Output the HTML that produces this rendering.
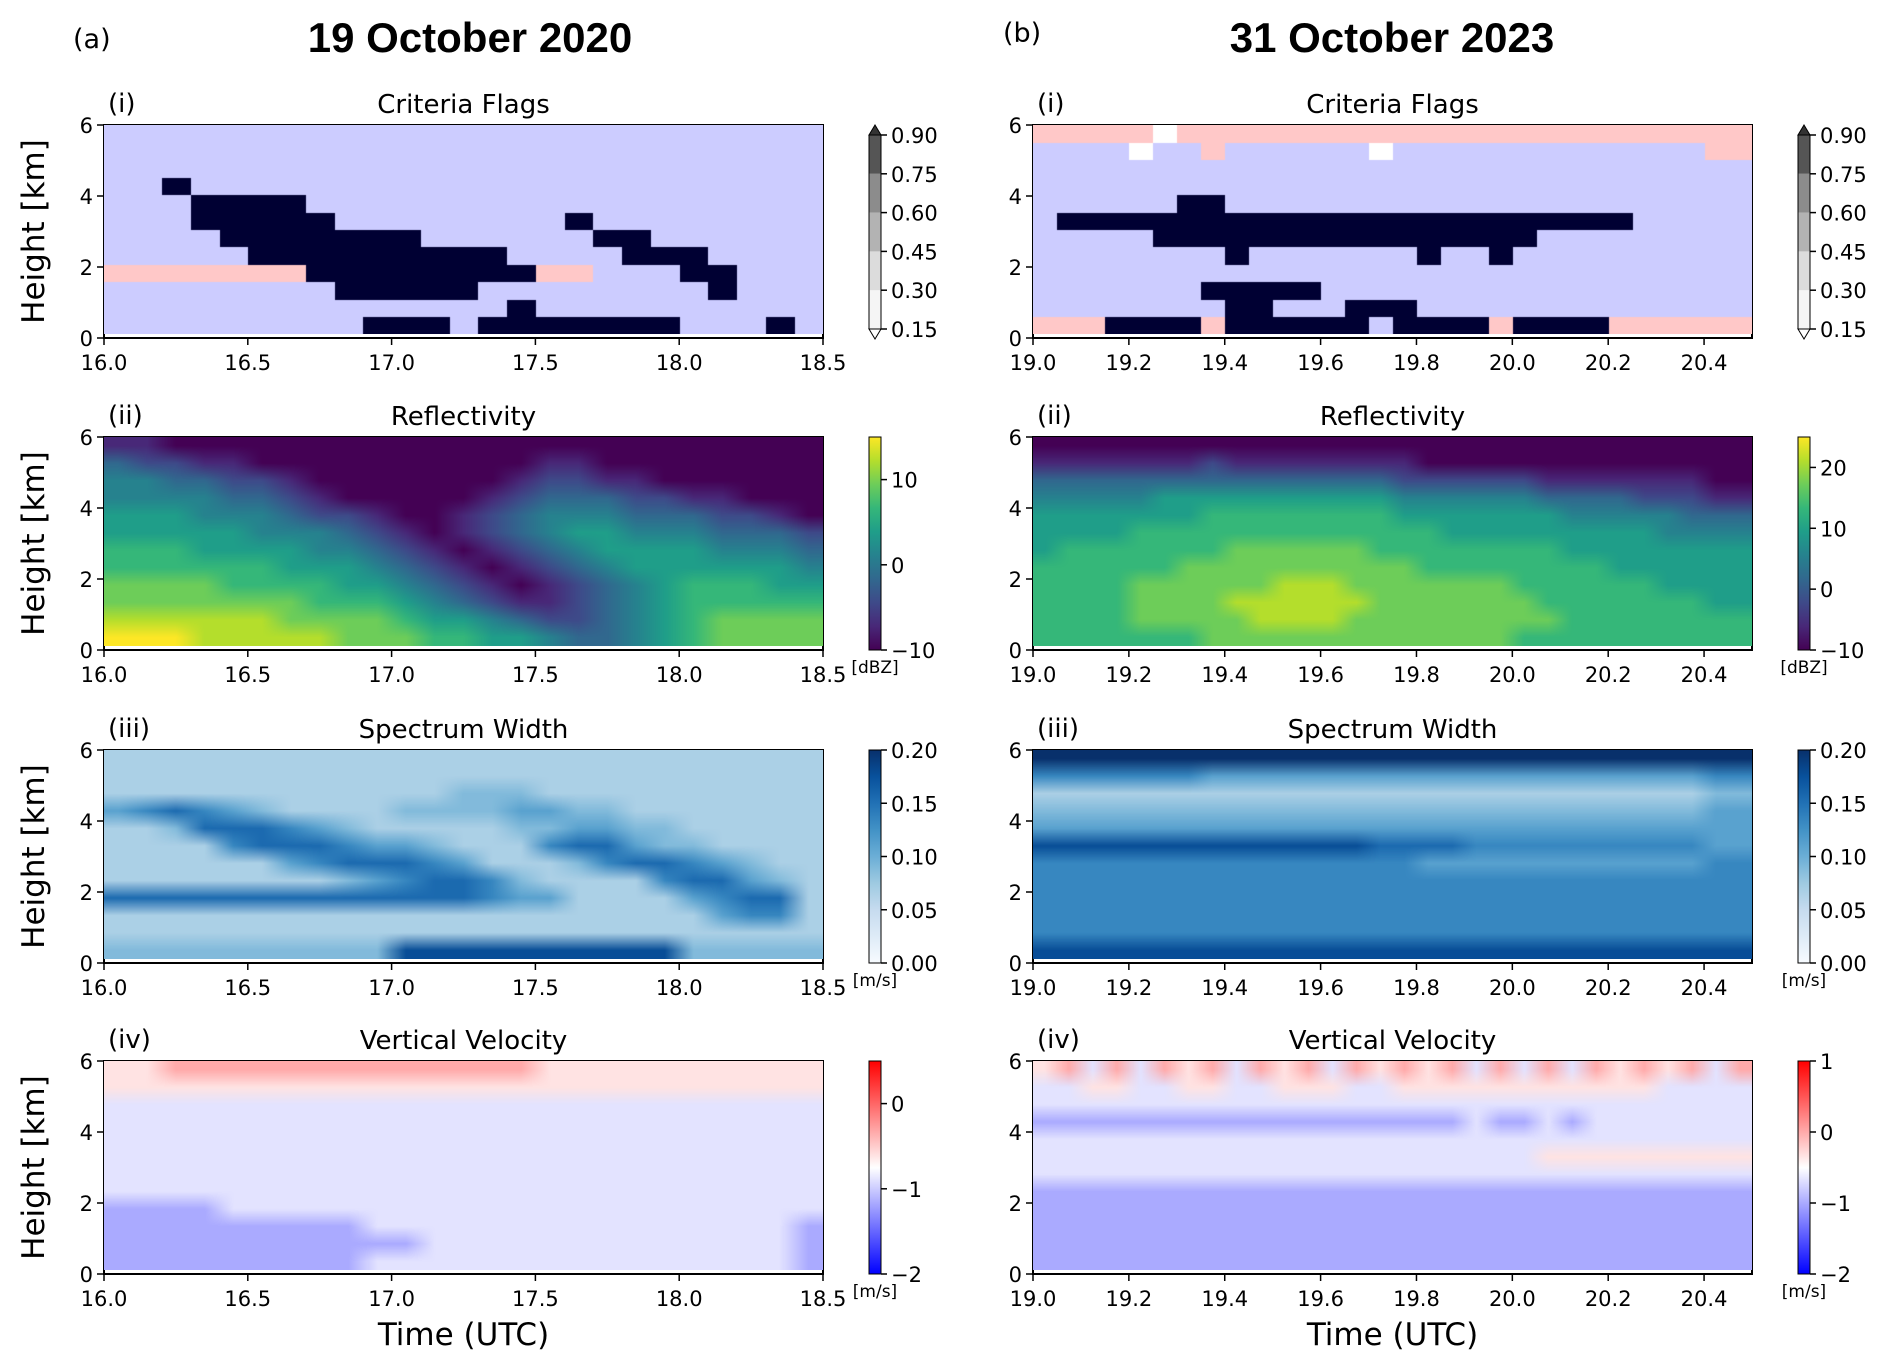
<!DOCTYPE html>
<html><head><meta charset="utf-8">
<style>
body{margin:0;background:#fff;width:1892px;height:1365px;position:relative;overflow:hidden;font-family:"DejaVu Sans","Liberation Sans",sans-serif;}
canvas{position:absolute;}
svg{position:absolute;left:0;top:0;}
</style></head>
<body>
<svg id="fig" width="1892" height="1365"></svg>
<script>
// ---- data (rows from 6 km top down to 0 km, 0.5 km each) ----
const flagsA = ["LLLLLLLLLLLLLLLLLLLLLLLLL","LLLLLLLLLLLLLLLLLLLLLLLLL","LLLLLLLLLLLLLLLLLLLLLLLLL","LLDLLLLLLLLLLLLLLLLLLLLLL","LLLDDDDLLLLLLLLLLLLLLLLLL","LLLDDDDDLLLLLLLLDLLLLLLLL","LLLLDDDDDDDLLLLLLDDLLLLLL","LLLLLDDDDDDDDDLLLLDDDLLLL","PPPPPPPDDDDDDDDPPLLLDDLLL","LLLLLLLLDDDDDLLLLLLLLDLLL","LLLLLLLLLLLLLLDLLLLLLLLLL","LLLLLLLLLDDDLDDDDDDDLLLDL"];
const flagsB = ["PPPPPWPPPPPPPPPPPPPPPPPPPPPPPP","LLLLWLLPLLLLLLWLLLLLLLLLLLLLPP","LLLLLLLLLLLLLLLLLLLLLLLLLLLLLL","LLLLLLLLLLLLLLLLLLLLLLLLLLLLLL","LLLLLLDDLLLLLLLLLLLLLLLLLLLLLL","LDDDDDDDDDDDDDDDDDDDDDDDDLLLLL","LLLLLDDDDDDDDDDDDDDDDLLLLLLLLL","LLLLLLLLDLLLLLLLDLLDLLLLLLLLLL","LLLLLLLLLLLLLLLLLLLLLLLLLLLLLL","LLLLLLLDDDDDLLLLLLLLLLLLLLLLLL","LLLLLLLLDDLLLDDDLLLLLLLLLLLLLL","PPPDDDDPDDDDDDLDDDDPDDDDPPPPPP"];
const reflA = ["1100000000000000000000000","3221100000000001100000000","4433221000000012211000000","4444332100000123332211000","5554443221001234443332210","5555544432101234554443332","6665555443210123455554443","6666665554321012345555554","7777666655432101234566655","7777777666543211234566666","8888887777655432234567777","9998888877766554334567777"];
const reflB = ["000000000000000000000000000000","111111121111111100000000000000","333333333333333222222111111100","444445555555555444444333322211","555555566666666555555544444333","555566666666666665555555554444","566666667777776666666655555555","666666777777777766666666555555","666677777788877777776666665555","666677778888887777777666666655","666677777888877777777766666666","666666677777777777776666666666"];
const swA = ["3333333333333333333333333","3333333333333333333333333","3333333333334443333333333","5676543333444455443333333","3347776543333344554433333","3333677765543336775443333","3333335677765333467765433","3333333345677643333677543","7777777777777655333356773","3333333333333333333335663","3333333333333333333333333","4444444444888888888844444"];
const swB = ["999999999999999999999999999999","666666655555555555555555555566","333333333333333333333333333344","444444444444444444444444444455","555555555555555555555555555555","888888888888887777666666666655","666666666666666655555555555566","666666666666666666666666666666","666666666666666666666666666666","666666666666666666666666666666","666666666666666666666666666666","888888888888888888888888888888"];
const vvA = ["5566666666666665555555555","5555555555555555555555555","4444444444444444444444444","4444444444444444444444444","4444444444444444444444444","4444444444444444444444444","4444444444444444444444444","4444444444444444444444444","3333444444444444444444444","3333333334444444444444443","3333333333344444444444443","3333333334444444444444443"];
const vvB = ["564646564656465656464646565646","445544554455544555555555554444","444444444444444444444444444444","333333333333333333433434444444","444444444444444444444444444444","444444444444444444444555555555","444444444444444444444444444444","333333333333333333333333333333","333333333333333333333333333333","333333333333333333333333333333","333333333333333333333333333333","333333333333333333333333333333"];
const xTicksA = [16.0,16.5,17.0,17.5,18.0,18.5];
const xTicksB = [19.0,19.2,19.4,19.6,19.8,20.0,20.2,20.4];
const yTicks = [0,2,4,6];
const flagTicks = [0.15,0.30,0.45,0.60,0.75,0.90];
const reflTicksA = [-10,0,10];
const reflTicksB = [-10,0,10,20];
const swTicks = [0.00,0.05,0.10,0.15,0.20];
const vvTicksA = [-2,-1,0];
const vvTicksB = [-2,-1,0,1];

// ---- colormaps ----
function lerpStops(stops,t){t=Math.max(0,Math.min(1,t));const n=stops.length-1;const i=Math.min(n-1,Math.floor(t*n));const f=t*n-i;const a=stops[i],b=stops[i+1];return [a[0]+(b[0]-a[0])*f,a[1]+(b[1]-a[1])*f,a[2]+(b[2]-a[2])*f];}
const viridis=[[68,1,84],[72,40,120],[62,74,137],[49,104,142],[38,130,142],[31,158,137],[53,183,121],[109,205,89],[180,222,44],[253,231,37]];
const blues=[[247,251,255],[222,235,247],[198,219,239],[158,202,225],[107,174,214],[66,146,198],[33,113,181],[8,81,156],[8,48,107]];
const bwr=[[0,0,255],[255,255,255],[255,0,0]];
const flagCol={L:[204,204,255],D:[0,0,51],P:[255,200,200],W:[255,255,255]};

const svg=document.getElementById('fig');
const NS='http://www.w3.org/2000/svg';
function el(tag,attrs,parent){const e=document.createElementNS(NS,tag);for(const k in attrs)e.setAttribute(k,attrs[k]);(parent||svg).appendChild(e);return e;}
function txt(s,attrs,parent){const e=el('text',attrs,parent);e.textContent=s;return e;}

const cols=[{x0:104,x1:823,xmin:16.0,xmax:18.5,ticks:xTicksA,key:'a'},{x0:1033,x1:1752,xmin:19.0,xmax:20.5,ticks:xTicksB,key:'b'}];
const rowsTop=[125,437,750,1061];const H=213;
const titles=["Criteria Flags","Reflectivity","Spectrum Width","Vertical Velocity"];
const romans=["(i)","(ii)","(iii)","(iv)"];

function drawHeat(grid,x,y,w,h,colorFn,smooth,name){
  const R=grid.length,C=grid[0].length;
  const cv=document.createElement('canvas');cv.width=Math.round(w);cv.height=Math.round(h);
  cv.style.left=x+'px';cv.style.top=y+'px';
  
  
  const ctx=cv.getContext('2d');
  const img=ctx.createImageData(cv.width,cv.height);
  const cache={};
  const col=(r,c)=>{const ch=grid[r][c];if(!cache[ch])cache[ch]=colorFn(ch);return cache[ch];};
  for(let py=0;py<cv.height;py++){
    for(let px=0;px<cv.width;px++){
      let out;
      if(!smooth){const r=Math.min(R-1,Math.floor(py/cv.height*R)),c=Math.min(C-1,Math.floor(px/cv.width*C));out=col(r,c);}
      else{
        let fy=(py+0.5)/cv.height*R-0.5,fx=(px+0.5)/cv.width*C-0.5;
        fy=Math.max(0,Math.min(R-1,fy));fx=Math.max(0,Math.min(C-1,fx));
        const r0=Math.floor(fy),c0=Math.floor(fx),r1=Math.min(R-1,r0+1),c1=Math.min(C-1,c0+1);
        const ty=fy-r0,tx=fx-c0;
        const a=col(r0,c0),b=col(r0,c1),c=col(r1,c0),d=col(r1,c1);
        out=[0,1,2].map(k=>(a[k]*(1-tx)+b[k]*tx)*(1-ty)+(c[k]*(1-tx)+d[k]*tx)*ty);
      }
      const i=(py*cv.width+px)*4;img.data[i]=out[0];img.data[i+1]=out[1];img.data[i+2]=out[2];img.data[i+3]=255;
    }
  }
  ctx.putImageData(img,0,0);
  document.body.appendChild(cv);
}

const panels=[
 [{g:flagsA,f:ch=>flagCol[ch],s:false},{g:reflA,f:d=>lerpStops(viridis,(+d)/9),s:true},{g:swA,f:d=>lerpStops(blues,(+d)/9),s:true},{g:vvA,f:d=>lerpStops(bwr,(+d)/9),s:true}],
 [{g:flagsB,f:ch=>flagCol[ch],s:false},{g:reflB,f:d=>lerpStops(viridis,(+d)/9),s:true},{g:swB,f:d=>lerpStops(blues,(+d)/9),s:true},{g:vvB,f:d=>lerpStops(bwr,(+d)/9),s:true}]
];

txt('(a)',{x:73,y:48,'font-size':27,});
txt('19 October 2020',{x:470,y:52,'font-size':42,'font-weight':'bold','text-anchor':'middle','font-family':'Liberation Sans, sans-serif',});
txt('(b)',{x:1003,y:42,'font-size':27,});
txt('31 October 2023',{x:1392,y:52,'font-size':42,'font-weight':'bold','text-anchor':'middle','font-family':'Liberation Sans, sans-serif',});

cols.forEach((C,ci)=>{
  const W=C.x1-C.x0;
  const xs=v=>C.x0+(v-C.xmin)/(C.xmax-C.xmin)*W;
  rowsTop.forEach((top,ri)=>{
    const ys=v=>top+H-(v/6)*H;
    const p=panels[ci][ri];
    const g=el('g',{});
    drawHeat(p.g,C.x0,ys(6),W,ys(0.12)-ys(6),p.f,p.s,`heatmap-${C.key}-${ri+1}`);
    el('rect',{x:C.x0,y:top,width:W,height:H,fill:'none',stroke:'#000','stroke-width':2,},g);
    yTicks.forEach(v=>{
      el('line',{x1:C.x0-7,x2:C.x0,y1:ys(v),y2:ys(v),stroke:'#000','stroke-width':1.5,},g);
      txt(String(v),{x:C.x0-11,y:ys(v)+8,'font-size':21,'text-anchor':'end',},g);
    });
    C.ticks.forEach(v=>{
      el('line',{x1:xs(v),x2:xs(v),y1:top+H,y2:top+H+7,stroke:'#000','stroke-width':1.5,},g);
      txt(v.toFixed(1),{x:xs(v),y:top+H+32,'font-size':21,'text-anchor':'middle',},g);
    });
    txt(romans[ri],{x:C.x0+4,y:top-13,'font-size':26,},g);
    txt(titles[ri],{x:(C.x0+C.x1)/2,y:top-12,'font-size':26,'text-anchor':'middle',},g);
    if(ci===0) txt('Height [km]',{x:0,y:0,'font-size':31,'text-anchor':'middle',transform:`translate(44,${top+H/2}) rotate(-90)`,},g);
    const cx=C.x1+46,cw=12;
    const cb=el('g',{});
    if(ri===0){
      const t0=135,t1=329;const cy=v=>t1-(v-0.15)/(0.75)*(t1-t0);
      const grays=['#f5f5f5','#dcdcdc','#b3b3b3','#8c8c8c','#555555'];
      for(let k=0;k<5;k++) el('rect',{x:cx,y:cy(flagTicks[k+1]),width:cw,height:cy(flagTicks[k])-cy(flagTicks[k+1]),fill:grays[k],},cb);
      el('path',{d:`M${cx},${t0} L${cx+cw/2},${t0-10} L${cx+cw},${t0} Z`,fill:'#333',stroke:'#000','stroke-width':1,},cb);
      el('path',{d:`M${cx},${t1} L${cx+cw/2},${t1+10} L${cx+cw},${t1} Z`,fill:'#fff',stroke:'#000','stroke-width':1,},cb);
      el('rect',{x:cx,y:t0,width:cw,height:t1-t0,fill:'none',stroke:'#000','stroke-width':1,},cb);
      flagTicks.forEach(v=>{el('line',{x1:cx+cw,x2:cx+cw+6,y1:cy(v),y2:cy(v),stroke:'#000','stroke-width':1.5,},cb);
        txt(v.toFixed(2),{x:cx+cw+10,y:cy(v)+8,'font-size':21,},cb);});
    } else {
      let stops,vmin,vmax,ticks,fmt,unit;
      if(ri===1){stops=viridis;vmin=-10;vmax=ci?25:15;ticks=ci?reflTicksB:reflTicksA;fmt=v=>v<0?'\u2212'+(-v):String(v);unit='[dBZ]';}
      if(ri===2){stops=blues;vmin=0;vmax=0.2;ticks=swTicks;fmt=v=>v.toFixed(2);unit='[m/s]';}
      if(ri===3){stops=bwr;vmin=-2;vmax=ci?1:0.5;ticks=ci?vvTicksB:vvTicksA;fmt=v=>v<0?'\u2212'+(-v):String(v);unit='[m/s]';}
      const gid='grad'+ci+ri;
      const defs=el('defs',{},cb);const lg=el('linearGradient',{id:gid,x1:0,y1:1,x2:0,y2:0},defs);
      stops.forEach((s,k)=>el('stop',{offset:k/(stops.length-1),'stop-color':`rgb(${s.map(Math.round).join(',')})`},lg));
      el('rect',{x:cx,y:top,width:cw,height:H,fill:`url(#${gid})`,stroke:'#000','stroke-width':1,},cb);
      const cy=v=>top+H-(v-vmin)/(vmax-vmin)*H;
      ticks.forEach(v=>{el('line',{x1:cx+cw,x2:cx+cw+6,y1:cy(v),y2:cy(v),stroke:'#000','stroke-width':1.5,},cb);
        txt(fmt(v),{x:cx+cw+10,y:cy(v)+8,'font-size':21,},cb);});
      txt(unit,{x:cx+cw/2,y:top+H+23,'font-size':17,'text-anchor':'middle',},cb);
    }
  });
  txt('Time (UTC)',{x:(C.x0+C.x1)/2,y:1345,'font-size':31,'text-anchor':'middle',});
});
</script>
</body></html>
